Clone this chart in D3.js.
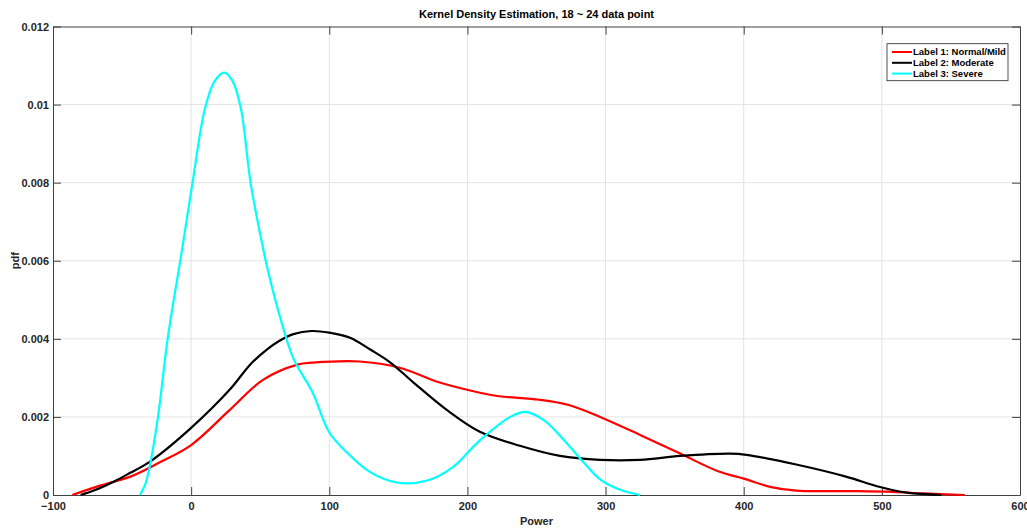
<!DOCTYPE html>
<html>
<head>
<meta charset="utf-8">
<script src="https://cdn.jsdelivr.net/npm/d3@7"></script>
<style>
  body { margin: 0; background: #fff; }
  text { font-family: "Liberation Sans", Arial, sans-serif; font-weight: bold; }
</style>
</head>
<body>
<div id="chart"></div>
<script>
// chart values
const seriesNames = ["Label 1: Normal/Mild", "Label 2: Moderate", "Label 3: Severe"];
const seriesColors = ["#ff0000", "#000000", "#00ffff"];

const normalMild = [
    [-86, 0], [-66, 0.00024], [-44, 0.00047], [-22, 0.00085], [0, 0.00128], [28, 0.00218],
    [52, 0.00295], [77, 0.00334], [88, 0.00339], [122, 0.00342], [151, 0.00326],
    [180, 0.00288], [209, 0.00262], [223, 0.00253], [252, 0.00244], [274, 0.0023], [296, 0.002],
    [325, 0.00154], [354, 0.00106], [382, 0.0006], [400, 0.00042], [420, 0.0002], [438, 0.00011],
    [476, 0.0001], [508, 0.00008], [530, 0.00004], [560, 0]
];
const moderate = [
    [-80, 0], [-70, 0.00012], [-55, 0.00036], [-44, 0.00057], [-30, 0.00085], [0, 0.00172],
    [28, 0.0027], [43, 0.00335], [55, 0.00373], [64, 0.00395], [74, 0.00412], [87, 0.0042],
    [100, 0.00416], [115, 0.00403], [130, 0.00372], [144, 0.0034], [161, 0.00288],
    [185, 0.00218], [209, 0.00162], [238, 0.00126], [267, 0.001], [296, 0.0009], [325, 0.0009],
    [354, 0.001], [390, 0.00106], [402, 0.00103], [438, 0.00078], [474, 0.00047],
    [498, 0.00021], [518, 0.00006], [543, 0]
];
const severe = [
    [-37, 0], [-33, 0.0003], [-30, 0.00073], [-24, 0.002], [-17, 0.004], [-6.5, 0.0063],
    [1, 0.008], [10, 0.0099], [17, 0.0106], [24, 0.01082], [30, 0.0106],
    [36, 0.0099], [43, 0.008], [51, 0.0065], [55, 0.00584], [64, 0.0046], [74, 0.0035],
    [88, 0.00262], [100, 0.0016], [113, 0.00108], [129, 0.0006], [149, 0.00032],
    [171, 0.00037], [189, 0.0007], [209, 0.0014], [231, 0.002], [242, 0.00213], [256, 0.0019],
    [270, 0.0014], [285, 0.0008], [296, 0.0004], [310, 0.00014], [325, 0]
];
const seriesData = [normalMild, moderate, severe];

const xTicks = [-100, 0, 100, 200, 300, 400, 500, 600];
const yTicks = [0, 0.002, 0.004, 0.006, 0.008, 0.01, 0.012];

// layout
let margin = {top: 26.5, right: 7, bottom: 34, left: 53},
    width = 1027 - margin.left - margin.right,
    height = 529 - margin.top - margin.bottom;

let svg = d3.select("#chart")
    .append("svg")
    .attr("width", 1027)
    .attr("height", 529)
    .append("g")
    .attr("transform", "translate(" + margin.left + "," + margin.top + ")");

let x = d3.scaleLinear().domain([-100, 600]).range([0, width]);
let y = d3.scaleLinear().domain([0, 0.012]).range([height, 0]);

const axisColor = "#404040";
const fmtY = d => d === 0 ? "0" : String(+d.toFixed(3));

// grid
svg.append("g").selectAll("line").data(xTicks.slice(1, -1)).enter().append("line")
    .attr("x1", d => x(d)).attr("x2", d => x(d))
    .attr("y1", 0).attr("y2", height)
    .attr("stroke", "#e3e3e3").attr("stroke-width", 1);
svg.append("g").selectAll("line").data(yTicks.slice(1, -1)).enter().append("line")
    .attr("y1", d => y(d)).attr("y2", d => y(d))
    .attr("x1", 0).attr("x2", width)
    .attr("stroke", "#e3e3e3").attr("stroke-width", 1);

// axes, ticks pointing inward
function styleAxis(g) {
    g.select(".domain").attr("stroke", axisColor);
    g.selectAll(".tick line").attr("stroke", axisColor);
    g.selectAll(".tick text").attr("fill", "#262626")
        .style("font-family", "'Liberation Sans', Arial, sans-serif")
        .style("font-weight", "bold").style("font-size", "11px");
}

svg.append("g")
    .attr("transform", "translate(0," + height + ")")
    .call(d3.axisBottom(x).tickValues(xTicks).tickSize(-8).tickPadding(7).tickSizeOuter(0))
    .call(styleAxis);
svg.append("g")
    .call(d3.axisLeft(y).tickValues(yTicks).tickFormat(fmtY).tickSize(-8).tickPadding(4).tickSizeOuter(0))
    .call(styleAxis);
svg.append("g")
    .call(d3.axisTop(x).tickValues(xTicks).tickSize(-8).tickFormat("").tickSizeOuter(0))
    .call(styleAxis);
svg.append("g")
    .attr("transform", "translate(" + width + ",0)")
    .call(d3.axisRight(y).tickValues(yTicks).tickSize(-8).tickFormat("").tickSizeOuter(0))
    .call(styleAxis);

// curves
let line = d3.line()
    .x(d => x(d[0]))
    .y(d => y(d[1]))
    .curve(d3.curveCatmullRom.alpha(0.5));

svg.selectAll(".curve")
    .data(seriesData)
    .enter().append("path")
    .attr("class", "curve")
    .attr("fill", "none")
    .attr("stroke", (d, i) => seriesColors[i])
    .attr("stroke-width", 2.2)
    .attr("stroke-linejoin", "round")
    .attr("d", line);

// title and axis labels
svg.append("text")
    .attr("x", width / 2)
    .attr("y", -9)
    .attr("text-anchor", "middle")
    .style("font-size", "11px")
    .attr("fill", "#000")
    .text("Kernel Density Estimation, 18 ~ 24 data point");

svg.append("text")
    .attr("x", width / 2)
    .attr("y", height + 30)
    .attr("text-anchor", "middle")
    .style("font-size", "11px")
    .attr("fill", "#262626")
    .text("Power");

svg.append("text")
    .attr("transform", "translate(" + (-34) + "," + (height / 2) + ") rotate(-90)")
    .attr("text-anchor", "middle")
    .style("font-size", "11px")
    .attr("fill", "#262626")
    .text("pdf");

// legend
let legend = svg.append("g")
    .attr("transform", "translate(" + (887 - margin.left) + "," + (43.7 - margin.top) + ")");
legend.append("rect")
    .attr("width", 121).attr("height", 37)
    .attr("fill", "#fff").attr("stroke", "#262626").attr("stroke-width", 0.8);
seriesNames.forEach((name, i) => {
    let row = legend.append("g").attr("transform", "translate(0," + (8.3 + i * 10.8) + ")");
    row.append("line")
        .attr("x1", 5).attr("x2", 25)
        .attr("stroke", seriesColors[i]).attr("stroke-width", 2);
    row.append("text")
        .attr("x", 26).attr("dy", "0.35em")
        .style("font-size", "9.5px")
        .attr("fill", "#000")
        .text(name);
});
</script>
</body>
</html>
